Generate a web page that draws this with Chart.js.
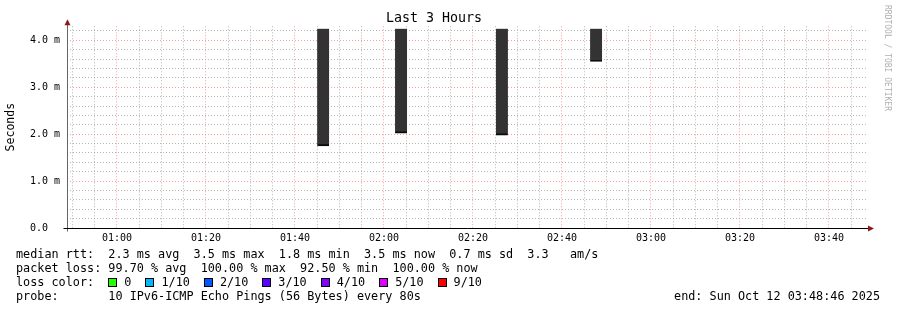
<!DOCTYPE html>
<html lang="en">
<head>
<meta charset="UTF-8">
<title>Last 3 Hours</title>
<script src="https://cdn.jsdelivr.net/npm/chart.js@4.4.1/dist/chart.umd.min.js"></script>
<style>
  body { margin: 0; background: #fff; }
  #wrap { position: relative; width: 897px; height: 310px; font-family: "DejaVu Sans Mono", monospace; }
  #graph { position: absolute; left: 0; top: 0; }
  .line { position: absolute; left: 16px; font-size: 11.8px; line-height: 14px; white-space: pre; color: #000; }
  .box { display: inline-block; width: 7px; height: 7px; border: 1px solid #000; vertical-align: -1px; margin-right: 7px; }
  .lbl { margin-right: 14px; }
</style>
</head>
<body>
<div id="wrap">
  <canvas id="graph" width="897" height="310"></canvas>
  <div class="line" style="top:247px">median rtt:  2.3 ms avg  3.5 ms max  1.8 ms min  3.5 ms now  0.7 ms sd  3.3   am/s</div>
  <div class="line" style="top:261px">packet loss: 99.70 % avg  100.00 % max  92.50 % min  100.00 % now</div>
  <div class="line" id="lossLine" style="top:275px">loss color:  </div>
  <div class="line" style="top:289px">probe:       10 IPv6-ICMP Echo Pings (56 Bytes) every 80s</div>
  <div class="line" id="endLine" style="top:289px; left:auto; right:17px"></div>
</div>

<script>
// time window of the graph
const startTime = '00:48:46';
const endTime = '03:48:46';

// axis labels
const xLabels = ['01:00', '01:20', '01:40', '02:00', '02:20', '02:40', '03:00', '03:20', '03:40'];
const yValues = [0, 1, 2, 3, 4];
const yLabels = ['0.0', '1.0 m', '2.0 m', '3.0 m', '4.0 m'];

// smoke bars: median rtt (bottom) up to the top of the smoke, in ms
const barTimes = ['01:46:20', '02:03:50', '02:26:30', '02:47:40'];
const medianRtt = [1.75, 2.02, 1.98, 3.55];
const smokeTop = [4.25, 4.25, 4.25, 4.25];

// loss colour legend
const lossLabels = ['0', '1/10', '2/10', '3/10', '4/10', '5/10', '9/10'];
const lossColors = ['#26ff00', '#00b8ff', '#0059ff', '#5e00ff', '#7e00ff', '#dd00ff', '#ff0000'];

function secs(t) {
    const p = t.split(':').map(Number);
    return p[0] * 3600 + p[1] * 60 + (p[2] || 0);
}
const t0 = secs(startTime);
const toMin = t => (secs(t) - t0) / 60;
const spanMin = toMin(endTime);

function clock(min) {
    const s = Math.round(t0 + min * 60);
    const h = Math.floor(s / 3600), m = Math.floor((s % 3600) / 60);
    return String(h).padStart(2, '0') + ':' + String(m).padStart(2, '0');
}

// legend rows
const lossLine = document.getElementById('lossLine');
lossLabels.forEach((l, i) => {
    const b = document.createElement('span');
    b.className = 'box';
    b.style.background = lossColors[i];
    const t = document.createElement('span');
    t.className = 'lbl';
    t.textContent = l;
    lossLine.appendChild(b);
    lossLine.appendChild(t);
});
document.getElementById('endLine').textContent = 'end: Sun Oct 12 ' + endTime + ' 2025';

const MAJOR = 'rgba(255, 90, 90, 0.6)';
const MINOR = 'rgba(150, 150, 150, 0.7)';

// axis lines, arrows and the rrdtool watermark
const decor = {
    id: 'decor',
    afterDraw(chart) {
        const ctx = chart.ctx;
        const a = chart.chartArea;
        const x0 = Math.round(a.left) + 0.5, y0 = Math.round(a.bottom) + 0.5;
        ctx.save();
        ctx.lineWidth = 1;
        ctx.strokeStyle = '#666';
        ctx.beginPath();
        ctx.moveTo(x0, y0 + 3);
        ctx.lineTo(x0, a.top - 4);
        ctx.stroke();
        ctx.strokeStyle = '#000';
        ctx.beginPath();
        ctx.moveTo(x0 - 4, y0);
        ctx.lineTo(a.right + 3, y0);
        ctx.stroke();
        ctx.fillStyle = '#8b1a1a';
        ctx.beginPath();
        ctx.moveTo(x0, a.top - 7);
        ctx.lineTo(x0 - 3, a.top - 1);
        ctx.lineTo(x0 + 3, a.top - 1);
        ctx.fill();
        ctx.beginPath();
        ctx.moveTo(a.right + 6, y0);
        ctx.lineTo(a.right, y0 - 3);
        ctx.lineTo(a.right, y0 + 3);
        ctx.fill();
        ctx.translate(885, 5);
        ctx.rotate(Math.PI / 2);
        ctx.font = '8px "DejaVu Sans Mono"';
        ctx.fillStyle = '#b0b0b0';
        ctx.textBaseline = 'alphabetic';
        ctx.fillText('RRDTOOL / TOBI OETIKER', 0, 0);
        ctx.restore();
    }
};

const mono = 'DejaVu Sans Mono';

new Chart(document.getElementById('graph'), {
    type: 'bar',
    data: {
        datasets: [{
            data: barTimes.map((t, i) => ({ x: toMin(t), y: [medianRtt[i], smokeTop[i]] })),
            backgroundColor: '#333333',
            borderColor: '#0a0a0a',
            borderWidth: { top: 0, left: 0, right: 0, bottom: 2 },
            borderSkipped: false,
            barThickness: 12
        }]
    },
    options: {
        responsive: false,
        animation: false,
        layout: { padding: { top: 0, right: 29, bottom: 0, left: 0 } },
        plugins: {
            legend: { display: false },
            tooltip: { enabled: false },
            title: {
                display: true,
                text: 'Last 3 Hours',
                color: '#000',
                font: { family: mono, size: 13.3, weight: 'normal', lineHeight: 1 },
                padding: { top: 12, bottom: 1 }
            }
        },
        scales: {
            x: {
                type: 'linear',
                min: 0,
                max: spanMin,
                offset: false,
                afterFit(scale) { scale.height = 82; },
                afterBuildTicks(scale) {
                    const ticks = [];
                    for (let m = Math.ceil((t0 / 60) / 5) * 5 - t0 / 60; m < spanMin; m += 5) {
                        ticks.push({ value: m });
                    }
                    scale.ticks = ticks;
                },
                grid: {
                    offset: false,
                    drawTicks: false,
                    color: c => xLabels.includes(clock(c.tick.value)) ? MAJOR : MINOR
                },
                border: { display: false, dash: [1, 2] },
                ticks: {
                    autoSkip: false,
                    maxRotation: 0,
                    padding: 4,
                    color: '#000',
                    font: { family: mono, size: 10 },
                    callback: v => xLabels.includes(clock(v)) ? clock(v) : ''
                }
            },
            y: {
                min: 0,
                max: 4.3,
                afterFit(scale) { scale.width = 67; },
                afterBuildTicks(scale) {
                    const ticks = [];
                    for (let i = 0; i <= 21; i++) ticks.push({ value: i / 5 });
                    scale.ticks = ticks;
                },
                grid: {
                    drawTicks: false,
                    color: c => Math.abs(c.tick.value - Math.round(c.tick.value)) < 1e-6 ? MAJOR : MINOR
                },
                border: { display: false, dash: [1, 2] },
                title: {
                    display: true,
                    text: 'Seconds',
                    color: '#000',
                    font: { family: mono, size: 11.5 },
                    padding: { top: 4, bottom: 0 }
                },
                ticks: {
                    autoSkip: false,
                    padding: 7,
                    color: '#000',
                    font: { family: mono, size: 10 },
                    callback: v => {
                        const i = yValues.findIndex(y => Math.abs(y - v) < 1e-6);
                        return i < 0 ? '' : yLabels[i].padEnd(5, ' ');
                    }
                }
            }
        }
    },
    plugins: [decor]
});
</script>
</body>
</html>
